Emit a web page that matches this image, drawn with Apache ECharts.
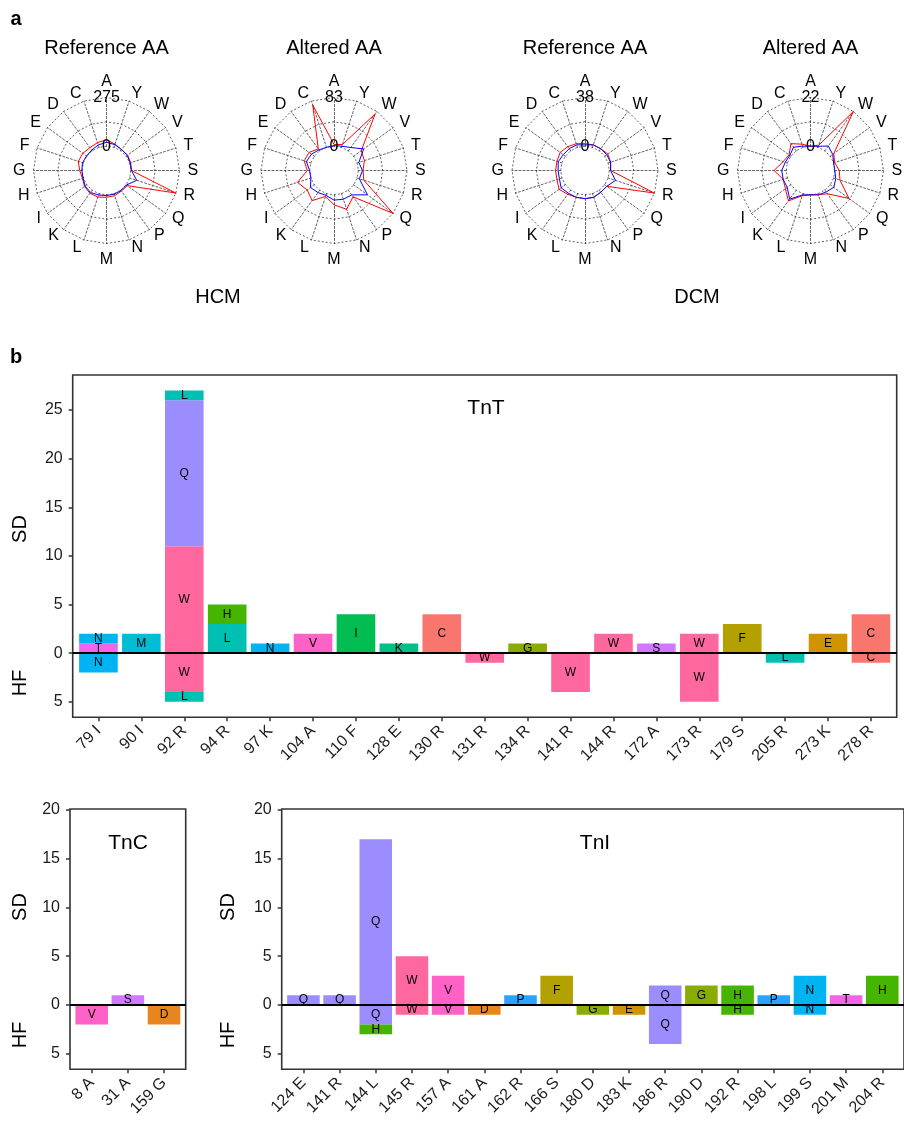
<!DOCTYPE html>
<html><head><meta charset="utf-8">
<script src="https://cdn.jsdelivr.net/npm/echarts@6/dist/echarts.min.js"></script>
<style>html,body{margin:0;padding:0;background:#fff}#c{width:904px;height:1123px}</style>
</head><body><div id="c"></div>
<script>
// ---------- DATA ----------
const aaAxes = ['A','C','D','E','F','G','H','I','K','L','M','N','P','Q','R','S','T','V','W','Y'];
const radarTitles = ['Reference AA','Altered AA','Reference AA','Altered AA'];
const radarMax = [275, 83, 38, 22];
// HCM reference
const hcmRefRed  = [36,28,22,28,30,14,5,16,22,20,14,12,6,8,275,3,6,10,8,19];
const hcmRefBlue = [22,14,5,2,5,2,2,12,16,8,4,3,2,2,42,4,3,8,8,16];
// HCM altered
const hcmAltRed  = [3,76,4,11,12,4,24,15,22,5,17,28,14,83,12,8,13,16,78,5];
const hcmAltBlue = [1,0,2,6,8,0,0,8,5,3,9,10,10,29,4,7,3,21,7,2];
// DCM reference
const dcmRefRed  = [2,3,4,5,4,4,4,6,4,3,3,3,2,2,38,1,2,3,2,2];
const dcmRefBlue = [1,2,2,2,3,2,2,4,3,3,3,3,2,2,6,1,2,2,2,2];
// DCM altered
const dcmAltRed  = [0,1.5,4,1,2,5.5,2,3,6,1,0,0.5,2,10.5,3,2,0.5,2,22,1];
const dcmAltBlue = [0,0.6,2,0.6,1,2,2,2,5,0.6,0,0.6,1,2,1,0,0,1.4,2.7,0.5];

// amino acids present in the bar charts (fill levels)
const fillLevels = ['C','D','E','F','G','H','I','K','L','M','N','P','Q','S','T','V','W'];

// TnT: segments listed from zero outward as [altered AA, count]
const tntCats = ['79 I','90 I','92 R','94 R','97 K','104 A','110 F','128 E','130 R','131 R','134 R','141 R','144 R','172 A','173 R','179 S','205 R','273 K','278 R'];
const tntSD = [[['T',1],['N',1]],[['M',2]],[['W',11],['Q',15],['L',1]],[['L',3],['H',2]],[['N',1]],[['V',2]],[['I',4]],[['K',1]],[['C',4]],[],[['G',1]],[],[['W',2]],[['S',1]],[['W',2]],[['F',3]],[],[['E',2]],[['C',4]]];
const tntHF = [[['N',2]],[],[['W',4],['L',1]],[],[],[],[],[],[],[['W',1]],[],[['W',4]],[],[],[['W',5]],[],[['L',1]],[],[['C',1]]];

// TnC
const tncCats = ['8 A','31 A','159 G'];
const tncSD = [[],[['S',1]],[]];
const tncHF = [[['V',2]],[],[['D',2]]];

// TnI
const tniCats = ['124 E','141 R','144 L','145 R','157 A','161 A','162 R','166 S','180 D','183 K','186 R','190 D','192 R','198 L','199 S','201 M','204 R'];
const tniSD = [[['Q',1]],[['Q',1]],[['Q',17]],[['W',5]],[['V',3]],[],[['P',1]],[['F',3]],[],[],[['Q',2]],[['G',2]],[['H',2]],[['P',1]],[['N',3]],[['T',1]],[['H',3]]];
const tniHF = [[],[],[['Q',2],['H',1]],[['W',1]],[['V',1]],[['D',1]],[],[],[['G',1]],[['E',1]],[['Q',4]],[],[['H',1]],[],[['N',1]],[],[]];

const yTicksTnT = [-5,0,5,10,15,20,25];
const yTicksSmall = [-5,0,5,10,15,20];

// ---------- helpers ----------
const FF = "'Liberation Sans', Arial, Helvetica, sans-serif";
function hcl(h, c, l) {
  const hr = h * Math.PI / 180;
  const U = c * Math.cos(hr), V = c * Math.sin(hr);
  const Xn = 95.047, Yn = 100, Zn = 108.883;
  const den = Xn + 15 * Yn + 3 * Zn;
  const un = 4 * Xn / den, vn = 9 * Yn / den;
  const Y = l > 8 ? Yn * Math.pow((l + 16) / 116, 3) : Yn * l / 903.3;
  const up = U / (13 * l) + un, vp = V / (13 * l) + vn;
  const X = Y * 9 * up / (4 * vp);
  const Z = Y * (12 - 3 * up - 20 * vp) / (4 * vp);
  const x = X / 100, y = Y / 100, z = Z / 100;
  let r = 3.2404542 * x - 1.5371385 * y - 0.4985314 * z;
  let g = -0.9692660 * x + 1.8760108 * y + 0.0415560 * z;
  let b = 0.0556434 * x - 0.2040259 * y + 1.0572252 * z;
  const gm = v => { v = v <= 0.0031308 ? 12.92 * v : 1.055 * Math.pow(v, 1 / 2.4) - 0.055; return Math.round(Math.max(0, Math.min(1, v)) * 255); };
  return '#' + [gm(r), gm(g), gm(b)].map(v => v.toString(16).padStart(2, '0')).join('');
}
const nLev = fillLevels.length;
const fillColor = {};
fillLevels.forEach((a, i) => {
  const h0 = 15, h1 = 375 - 360 / nLev;
  fillColor[a] = hcl(h0 + (h1 - h0) * i / (nLev - 1), 100, 65);
});

function buildSegments(sd, hf) {
  const segs = [];
  sd.forEach((list, i) => { let c = 0; list.forEach(([a, n]) => { segs.push({ x: i, y0: c, y1: c + n, aa: a }); c += n; }); });
  hf.forEach((list, i) => { let c = 0; list.forEach(([a, n]) => { segs.push({ x: i, y0: -c, y1: -(c + n), aa: a }); c += n; }); });
  return segs;
}

// ---------- layout ----------
const radarCx = [106.5, 334, 585, 810.5];
const radarCy = 170.5, rOut = 73, rIn = rOut / 3;
const grids = [
  { left: 72.7, top: 375, width: 824, height: 342.3 },
  { left: 70, top: 809, width: 115.7, height: 260.3 },
  { left: 281.7, top: 809, width: 623.3, height: 260.3 }
];
const panels = [
  { cats: tntCats, segs: buildSegments(tntSD, tntHF), min: -6.6, max: 28.6, ticks: yTicksTnT },
  { cats: tncCats, segs: buildSegments(tncSD, tncHF), min: -6.6, max: 20.1, ticks: yTicksSmall },
  { cats: tniCats, segs: buildSegments(tniSD, tniHF), min: -6.6, max: 20.1, ticks: yTicksSmall }
];

const gridLine = { color: '#3a3a3a', type: [2, 2], width: 0.8 };
// the value 0 sits on the inner ring (1/3 of the radius), like a radar with a blank centre
const radars = radarCx.map((cx, k) => ({
  z: 0,
  center: [cx, radarCy], radius: rOut, startAngle: 90, splitNumber: 3, shape: 'polygon',
  indicator: aaAxes.map(a => ({ name: a, min: -radarMax[k] / 2, max: radarMax[k] })),
  axisName: { color: '#000', fontSize: 16, fontFamily: FF },
  nameGap: 8,
  splitLine: { lineStyle: gridLine },
  splitArea: { show: true, areaStyle: { color: ['#ffffff', 'rgba(0,0,0,0)', 'rgba(0,0,0,0)'] } },
  axisLine: { lineStyle: gridLine },
  axisTick: { show: false }, axisLabel: { show: false }
}));
const radarData = [[hcmRefRed, hcmRefBlue], [hcmAltRed, hcmAltBlue], [dcmRefRed, dcmRefBlue], [dcmAltRed, dcmAltBlue]];

const series = [];
radarData.forEach(([red, blue], k) => {
  series.push({
    type: 'radar', radarIndex: k, symbol: 'none', silent: true, zlevel: 1, z: 9,
    data: [
      { value: red, lineStyle: { color: '#ff0000', width: 1 }, itemStyle: { color: '#ff0000' } },
      { value: blue, lineStyle: { color: '#0000ff', width: 1 }, itemStyle: { color: '#0000ff' } }
    ]
  });
});

const xAxes = [], yAxes = [];
panels.forEach((p, gi) => {
  const idx = p.cats.map((_, i) => i);
  xAxes.push({
    type: 'value', gridIndex: gi, min: -0.6, max: p.cats.length - 0.4, position: 'bottom',
    axisLine: { show: false, onZero: false }, splitLine: { show: false },
    axisTick: { show: true, length: 4, customValues: idx, lineStyle: { color: '#333', width: 1.5 } },
    axisLabel: { customValues: idx, formatter: v => p.cats[Math.round(v)], rotate: 45, fontSize: 16, color: '#1a1a1a', margin: 11, fontFamily: FF }
  });
  yAxes.push({
    type: 'value', gridIndex: gi, min: p.min, max: p.max, position: 'left',
    axisLine: { show: false, onZero: false }, splitLine: { show: false },
    axisTick: { show: true, length: 4, customValues: p.ticks, lineStyle: { color: '#333', width: 1.5 } },
    axisLabel: { customValues: p.ticks, formatter: v => String(Math.abs(v)), fontSize: 16, color: '#1a1a1a', margin: 10, fontFamily: FF }
  });
  series.push({
    type: 'custom', xAxisIndex: gi, yAxisIndex: gi, silent: true,
    data: p.segs.map(s => [s.x, s.y0, s.y1]),
    renderItem: (params, api) => {
      const s = p.segs[params.dataIndex];
      const a = api.coord([api.value(0) - 0.45, api.value(1)]);
      const b = api.coord([api.value(0) + 0.45, api.value(2)]);
      return {
        type: 'group', children: [
          { type: 'rect', shape: { x: a[0], y: Math.min(a[1], b[1]), width: b[0] - a[0], height: Math.abs(b[1] - a[1]) }, style: { fill: fillColor[s.aa] } },
          { type: 'text', z2: 10, style: { text: s.aa, x: (a[0] + b[0]) / 2, y: (a[1] + b[1]) / 2, align: 'center', verticalAlign: 'middle', fill: '#000', font: '12px ' + FF } }
        ]
      };
    },
    markLine: { silent: true, symbol: 'none', label: { show: false }, lineStyle: { color: '#000', width: 2, type: 'solid' }, data: [{ yAxis: 0 }] }
  });
});

function txt(text, x, y, size, extra) {
  return Object.assign({ type: 'text', x: x, y: y, z: 100, style: { text: text, fill: '#000', font: size + 'px ' + FF, align: 'center', verticalAlign: 'middle' } }, extra || {});
}
const graphics = [];
graphics.push({ type: 'text', x: 16, y: 19, style: { text: 'a', fill: '#000', font: 'bold 20px ' + FF, align: 'center', verticalAlign: 'middle' } });
graphics.push({ type: 'text', x: 16, y: 357, style: { text: 'b', fill: '#000', font: 'bold 20px ' + FF, align: 'center', verticalAlign: 'middle' } });
radarCx.forEach((cx, k) => {
  // blank centre of the radar (covers the spokes inside the zero ring), on its own layer
  const pts = aaAxes.map((_, i) => {
    const ang = Math.PI / 2 + i * 2 * Math.PI / aaAxes.length;
    return [cx + (rIn - 0.9) * Math.cos(ang), radarCy - (rIn - 0.9) * Math.sin(ang)];
  });
  graphics.push({ type: 'polygon', zlevel: 1, z: 5, silent: true, shape: { points: pts }, style: { fill: '#ffffff', stroke: null } });
  graphics.push(txt(radarTitles[k], cx, 48, 20));
  graphics.push(txt('0', cx, radarCy - rIn, 16, { zlevel: 1 }));
  graphics.push(txt(String(radarMax[k]), cx, radarCy - rOut, 16, { zlevel: 1 }));
});
graphics.push(txt('HCM', 218, 297, 20));
graphics.push(txt('DCM', 697, 297, 20));
graphics.push(txt('TnT', 486, 408, 21));
graphics.push(txt('TnC', 128, 843, 21));
graphics.push(txt('TnI', 595, 843, 21));
[[20, 529, 'SD'], [20, 683, 'HF'], [20, 907, 'SD'], [20, 1035, 'HF'], [228, 907, 'SD'], [228, 1035, 'HF']].forEach(([x, y, t]) => {
  graphics.push(txt(t, x, y, 20, { rotation: Math.PI / 2 }));
});

const chart = echarts.init(document.getElementById('c'), null, { renderer: 'canvas' });
chart.setOption({
  animation: false,
  backgroundColor: '#fff',
  radar: radars,
  grid: grids.map(g => Object.assign({ show: true, borderColor: '#333', borderWidth: 1.6, backgroundColor: '#fff', containLabel: false }, g)),
  xAxis: xAxes,
  yAxis: yAxes,
  series: series,
  graphic: { elements: graphics }
});
</script></body></html>
